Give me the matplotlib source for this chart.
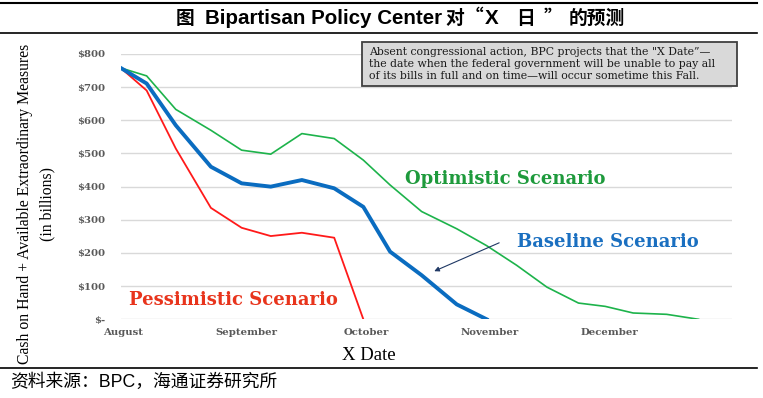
import matplotlib.pyplot as plt

# day offsets from Aug 1 for each projection point
days = [0, 6.5, 13.8, 22.6, 30.3, 37.6, 45.4, 53.5, 60.8, 67.5,
        75.4, 84.2, 91.7, 99.2, 106.8, 114.7, 121.4, 128.4, 136.8, 144.8]

optimistic = [758, 734, 633, 570, 510, 498, 560, 545, 480, 405,
              325, 273, 222, 163, 97, 49, 39, 19, 15, 0]
baseline = [758, 711, 585, 460, 410, 400, 420, 395, 339, 204, 133, 45, 0]
pessimistic = [758, 690, 515, 336, 276, 251, 261, 246, 0]

month_ticks = [0.5, 31.5, 61.5, 92.5, 122.5]
month_labels = ['August', 'September', 'October', 'November', 'December']
y_ticks = [0, 100, 200, 300, 400, 500, 600, 700, 800]
y_labels = ['$-', '$100', '$200', '$300', '$400', '$500', '$600', '$700', '$800']

W, H = 763, 398


def fx(x):
    return x / W


def fy(y):
    return 1 - y / H


fig = plt.figure(figsize=(W / 100, H / 100), dpi=100)
ax = fig.add_axes([fx(120.7), fy(319.3), (731.7 - 120.7) / W, (319.3 - 54) / H])

serif = 'Liberation Serif'
wide = 'DejaVu Serif'
sans = 'Liberation Sans'
cjk = 'Noto Sans CJK SC'
tick_col = '#595959'

ax.plot(days, optimistic, color='#1db34b', lw=1.2, zorder=3)
ax.plot(days[:len(baseline)], baseline, color='#0a6cc0', lw=2.8, zorder=4)
ax.plot(days[:len(pessimistic)], pessimistic, color='#ff1a1a', lw=1.3, zorder=3)

ax.set_xlim(0, 153.1)
ax.set_ylim(0, 800)
ax.set_yticks(y_ticks)
ax.set_yticklabels(y_labels)
ax.set_xticks(month_ticks)
ax.set_xticklabels(month_labels)
ax.tick_params(length=0)
ax.tick_params(axis='y', pad=11)
ax.tick_params(axis='x', pad=6)
for lab in ax.get_xticklabels() + ax.get_yticklabels():
    lab.set_fontfamily(wide)
    lab.set_fontweight('bold')
    lab.set_fontsize(7.3)
    lab.set_color(tick_col)
ax.grid(axis='y', color='#d9d9d9', lw=1)
ax.set_axisbelow(True)
for s in ax.spines.values():
    s.set_visible(False)

# scenario labels
fig.text(fx(505.5), fy(179.3), 'Optimistic Scenario', family=wide, weight='bold',
         fontsize=13, color='#1e9a3c', ha='center', va='center')
fig.text(fx(608), fy(241.7), 'Baseline Scenario', family=wide, weight='bold',
         fontsize=13, color='#1a6fc0', ha='center', va='center')
fig.text(fx(233), fy(300), 'Pessimistic Scenario', family=wide, weight='bold',
         fontsize=13, color='#e8341c', ha='center', va='center')

# arrow pointing to baseline line
fig.add_artist(plt.Annotation('', xy=(fx(431.7), fy(272.3)), xytext=(fx(501.7), fy(241.7)),
                              xycoords='figure fraction', textcoords='figure fraction',
                              arrowprops=dict(arrowstyle='-|>', color='#1f3864', lw=0.8,
                                              mutation_scale=7)))

# note box
fig.patches.append(plt.Rectangle((fx(361.7), fy(86)), (736.7 - 361.7) / W, (86 - 41.7) / H,
                                 transform=fig.transFigure, facecolor='#d9d9d9',
                                 edgecolor='#404040', lw=1.3, zorder=5))
note = ['Absent congressional action, BPC projects that the "X Date\u201d\u2014',
        'the date when the federal government will be unable to pay all',
        'of its bills in full and on time\u2014will occur sometime this Fall.']
for i, line in enumerate(note):
    fig.text(fx(369.3), fy(51.7 + 12.2 * i), line, family=wide, fontsize=7.85,
             color='#1a1a1a', ha='left', va='center', zorder=6)

# axis titles
fig.text(fx(36), fy(204), 'Cash on Hand + Available Extraordinary Measures\n(in billions)',
         family=serif, fontsize=11.3, rotation=90, ha='center', va='center',
         multialignment='center', linespacing=1.5)
fig.text(fx(369), fy(356), 'X Date', family=serif, fontsize=13.5, ha='center', va='center')

# rules
fig.add_artist(plt.Line2D([0, fx(757)], [fy(2.7), fy(2.7)], color='black', lw=1.5))
fig.add_artist(plt.Line2D([0, fx(757)], [fy(33), fy(33)], color='black', lw=1.2))
fig.add_artist(plt.Line2D([0, fx(757)], [fy(368), fy(368)], color='black', lw=1.2))

# title in pieces: latin in Arial-like bold, CJK with full-width quotes
title_parts = [
    ('图', cjk, 176, 'left'),
    ('Bipartisan Policy Center', sans, 205, 'left'),
    ('对', cjk, 445, 'left'),
    ('“', cjk, 483, 'right'),
    ('X', sans, 485, 'left'),
    ('日', cjk, 516, 'left'),
    ('”', cjk, 544, 'left'),
    ('的预测', cjk, 569, 'left'),
]
for part, fam, xp, align in title_parts:
    size = 14.8 if fam == sans else 13.5
    fig.text(fx(xp), fy(18), part, family=fam, weight='bold', fontsize=size,
             ha=align, va='center')

fig.text(fx(10), fy(382), '资料来源：BPC，海通证券研究所',
         family=[sans, cjk], fontsize=12.8, ha='left', va='center')

fig.savefig('out.png', dpi=100)
